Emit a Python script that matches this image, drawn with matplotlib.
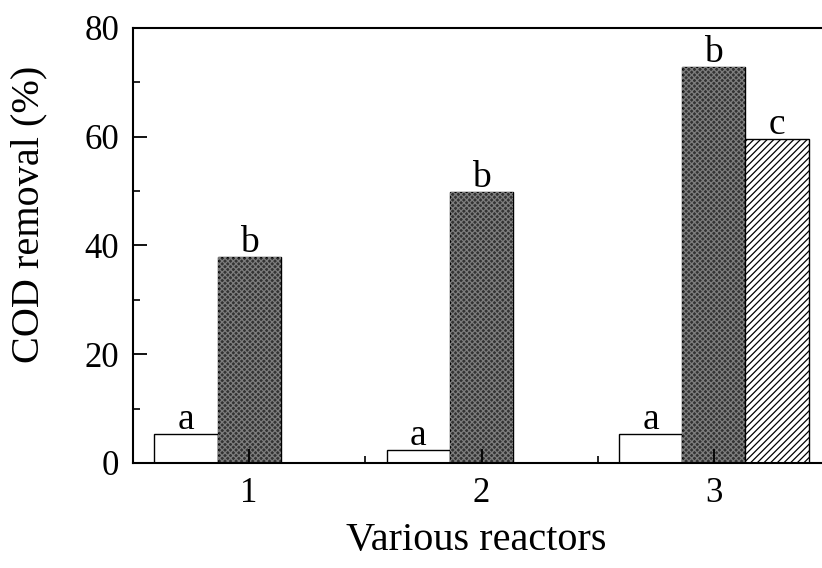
import matplotlib
matplotlib.use('Agg')
import matplotlib.pyplot as plt
import numpy as np
from matplotlib.ticker import MultipleLocator

# data
reactors = ['1', '2', '3']
white_vals = [5.3, 2.4, 5.3]
dark_vals = [37.8, 49.8, 72.8]
hatch_vals = [59.6]          # only reactor 3 has this bar
white_lbl = ['a', 'a', 'a']
dark_lbl = ['b', 'b', 'b']
hatch_lbl = ['c']

plt.rcParams['font.family'] = ['Liberation Serif', 'DejaVu Serif']
plt.rcParams['hatch.linewidth'] = 0.9

fig = plt.figure(figsize=(8.22, 5.68), dpi=100)
ax = fig.add_axes([0.1618, 0.185, 0.848, 0.766])

x = np.arange(1, len(reactors) + 1)
w = 0.272

# white bars
ax.bar(x - w, white_vals, w, facecolor='white', edgecolor='black', linewidth=1)
# dark textured bars
ax.bar(x, dark_vals, w, facecolor='#333333', edgecolor='black', linewidth=1)
ax.bar(x, dark_vals, w, facecolor='none', edgecolor='#7d7d7d', linewidth=0, hatch='xxxxxx')
# hatched bar for reactor 3
x3 = x[2:] + w
ax.bar(x3, hatch_vals, w, facecolor='white', edgecolor='black', linewidth=1, hatch='/////')

# letters on top of bars
for xi, v, s in zip(x - w, white_vals, white_lbl):
    ax.text(xi, v + 0.9, s, ha='center', va='baseline', fontsize=27)
for xi, v, s in zip(x, dark_vals, dark_lbl):
    ax.text(xi, v + 0.9, s, ha='center', va='baseline', fontsize=27)
for xi, v, s in zip(x3, hatch_vals, hatch_lbl):
    ax.text(xi, v + 0.9, s, ha='center', va='baseline', fontsize=27)

ax.set_xlim(0.5, 3.5)
ax.set_ylim(0, 80)
ax.set_xticks(x)
ax.set_xticklabels(reactors)
ax.xaxis.set_minor_locator(MultipleLocator(0.5))
ax.yaxis.set_major_locator(MultipleLocator(20))
ax.yaxis.set_minor_locator(MultipleLocator(10))
ax.tick_params(which='major', direction='in', length=10, width=1.3, labelsize=25, pad=10)
ax.tick_params(which='minor', direction='in', length=5, width=1.2)
for sp in ax.spines.values():
    sp.set_linewidth(1.5)

ax.set_ylabel('COD removal (%)', fontsize=29)
ax.set_xlabel('Various reactors', fontsize=29, labelpad=10)
ax.yaxis.set_label_coords(-0.123, 0.572)
ax.xaxis.set_label_coords(0.492, -0.135)

fig.savefig('out.png', dpi=100)
